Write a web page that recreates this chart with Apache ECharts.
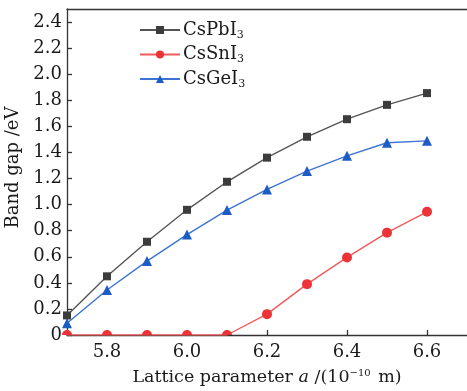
<!DOCTYPE html>
<html>
<head>
<meta charset="utf-8">
<script src="https://cdn.jsdelivr.net/npm/echarts@6/dist/echarts.min.js"></script>
<style>
  html, body { margin: 0; padding: 0; background: #fff; }
  #chart { width: 467px; height: 391px; }
</style>
</head>
<body>
<div id="chart"></div>
<script>
// Lattice parameter a (10^-10 m)
const latticeParams = [5.7, 5.8, 5.9, 6.0, 6.1, 6.2, 6.3, 6.4, 6.5, 6.6];
// Band gaps (eV)
const csPbI3 = [0.15, 0.45, 0.715, 0.96, 1.175, 1.36, 1.52, 1.655, 1.765, 1.855];
const csSnI3 = [0, 0, 0, 0, 0, 0.16, 0.39, 0.595, 0.785, 0.945];
const csGeI3 = [0.09, 0.345, 0.567, 0.77, 0.958, 1.116, 1.257, 1.374, 1.474, 1.489];
const seriesNames = ['CsPbI3', 'CsSnI3', 'CsGeI3'];
// Tick labels
const xTicks = [5.8, 6.0, 6.2, 6.4, 6.6];
const yTicks = [0, 0.2, 0.4, 0.6, 0.8, 1.0, 1.2, 1.4, 1.6, 1.8, 2.0, 2.2, 2.4];

const FONT = 'DejaVu Serif';
const AXIS_COLOR = '#333';
const TEXT_COLOR = '#1a1a1a';

// points sitting on the x axis show only their upper half
const HALF_DOT = 'path://M0,10 C0,4.5 4.5,0 10,0 C15.5,0 20,4.5 20,10 Z';

function pairs(vals, onAxisStyle) {
  return vals.map((v, i) => {
    if (onAxisStyle && v === 0) {
      return Object.assign({ value: [latticeParams[i], v] }, onAxisStyle);
    }
    return [latticeParams[i], v];
  });
}

const chart = echarts.init(document.getElementById('chart'), null, { renderer: 'canvas' });

chart.setOption({
  animation: false,
  backgroundColor: '#fff',
  grid: { left: 67, right: 0, top: 9, bottom: 56, containLabel: false, outerBoundsMode: 'none' },
  legend: {
    orient: 'vertical',
    left: 134,
    top: 16,
    itemWidth: 40,
    itemHeight: 10,
    itemGap: 5,
    data: seriesNames,
    formatter: name => {
      const m = name.match(/^(.*?)(\d+)$/);
      return '{m|' + m[1] + '}{s|' + m[2] + '}';
    },
    textStyle: {
      fontFamily: FONT,
      color: TEXT_COLOR,
      rich: {
        m: { fontFamily: FONT, fontSize: 18, color: TEXT_COLOR, padding: [0, 0, 0, -2] },
        s: { fontFamily: FONT, fontSize: 11, color: TEXT_COLOR, verticalAlign: 'bottom', padding: [10, 0, 0, 0] }
      }
    }
  },
  xAxis: [{
    type: 'value',
    min: 5.7,
    max: 6.7,
    position: 'bottom',
    name: '{t|Lattice parameter }{i|a}{t| /(10}{sup|−10}{t| m)}',
    nameLocation: 'middle',
    nameGap: 33,
    nameTextStyle: {
      fontFamily: FONT,
      color: TEXT_COLOR,
      rich: {
        t: { fontFamily: FONT, fontSize: 17.5, color: TEXT_COLOR },
        i: { fontFamily: FONT, fontSize: 17.5, fontStyle: 'italic', color: TEXT_COLOR },
        sup: { fontFamily: FONT, fontSize: 10, color: TEXT_COLOR, verticalAlign: 'top', padding: [0, 2, 8, 0] }
      }
    },
    axisLine: { show: true, lineStyle: { color: AXIS_COLOR, width: 1.3 } },
    axisTick: { show: true, inside: true, length: 5, customValues: xTicks, lineStyle: { color: AXIS_COLOR, width: 1.3 } },
    axisLabel: {
      customValues: xTicks,
      formatter: v => v.toFixed(1),
      fontFamily: FONT,
      fontSize: 18,
      color: TEXT_COLOR,
      margin: 8
    },
    splitLine: { show: false }
  }, {
    // top frame line
    type: 'value',
    min: 5.7,
    max: 6.7,
    position: 'top',
    axisLine: { show: true, lineStyle: { color: AXIS_COLOR, width: 1.3 } },
    axisTick: { show: false },
    axisLabel: { show: false },
    splitLine: { show: false }
  }],
  yAxis: {
    type: 'value',
    min: 0,
    max: 2.5,
    name: 'Band gap /eV',
    nameLocation: 'middle',
    nameGap: 41,
    nameRotate: 90,
    nameTextStyle: { fontFamily: FONT, fontSize: 18, color: TEXT_COLOR, padding: [0, 0, 0, 9] },
    axisLine: { show: true, lineStyle: { color: AXIS_COLOR, width: 1.3 } },
    axisTick: { show: true, inside: true, length: 5, customValues: yTicks, lineStyle: { color: AXIS_COLOR, width: 1.3 } },
    axisLabel: {
      customValues: yTicks,
      formatter: v => (v === 0 ? '0' : v.toFixed(1)),
      fontFamily: FONT,
      fontSize: 18,
      color: TEXT_COLOR,
      margin: 5
    },
    splitLine: { show: false }
  },
  series: [{
    name: seriesNames[0],
    type: 'line',
    data: pairs(csPbI3),
    symbol: 'rect',
    symbolSize: 8,
    lineStyle: { color: '#555', width: 1.4 },
    itemStyle: { color: '#3c3c3c' },
    z: 3
  }, {
    name: seriesNames[1],
    type: 'line',
    data: pairs(csSnI3, { symbol: HALF_DOT, symbolSize: [10, 5], symbolOffset: [0, -2.5] }),
    symbol: 'circle',
    symbolSize: 10,
    lineStyle: { color: '#f05a5a', width: 1.4 },
    itemStyle: { color: '#ec3338' },
    z: 3
  }, {
    name: seriesNames[2],
    type: 'line',
    data: pairs(csGeI3),
    symbol: 'triangle',
    symbolSize: 10,
    lineStyle: { color: '#3d74d2', width: 1.4 },
    itemStyle: { color: '#1c5cc4' },
    z: 3
  }]
});
</script>
</body>
</html>
